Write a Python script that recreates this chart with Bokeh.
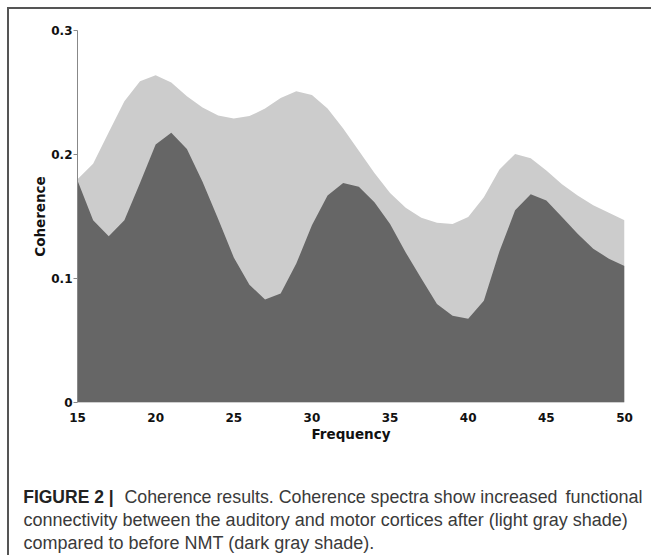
from bokeh.plotting import figure
from bokeh.layouts import column
from bokeh.models import Range1d, FixedTicker, Label
from bokeh.embed import file_html
from bokeh.resources import INLINE

# ---- data ----
freq = list(range(15, 51))
after_nmt = [0.180, 0.1925, 0.218, 0.243, 0.259, 0.264, 0.258, 0.247, 0.238, 0.2315,
             0.229, 0.231, 0.237, 0.2455, 0.251, 0.248, 0.237, 0.221, 0.203, 0.185,
             0.169, 0.157, 0.149, 0.145, 0.144, 0.1495, 0.1655, 0.188, 0.2005, 0.197,
             0.187, 0.176, 0.167, 0.159, 0.153, 0.147]
before_nmt = [0.179, 0.147, 0.134, 0.147, 0.177, 0.208, 0.2175, 0.2045, 0.178, 0.148,
              0.117, 0.095, 0.083, 0.088, 0.112, 0.143, 0.167, 0.177, 0.174, 0.1615,
              0.144, 0.121, 0.100, 0.0795, 0.070, 0.0675, 0.082, 0.122, 0.155, 0.168,
              0.163, 0.1495, 0.136, 0.124, 0.116, 0.110]
x_ticks = [15, 20, 25, 30, 35, 40, 45, 50]
y_ticks = [0, 0.1, 0.2, 0.3]
y_tick_labels = ["0", "0.1", "0.2", "0.3"]
x_label = "Frequency"
y_label = "Coherence"
caption_bold = "FIGURE 2 |"
# caption lines, in chunks (first line is justified in the original)
caption_chunks = [
    [("Coherence results. Coherence spectra show increased", "left", "17.8px"),
     ("functional", "right", "18px")],
    [("connectivity between the auditory and motor cortices after (light gray shade)", "left", "18px")],
    [("compared to before NMT (dark gray shade).", "left", "18px")],
]
chunk_x = [[115, 633], [14], [14]]

W = 642
HC = 448
HK = 98

p = figure(width=W, height=HC, x_range=Range1d(15, 50), y_range=Range1d(0, 0.3),
           output_backend="svg", toolbar_location=None,
           min_border_left=68, min_border_right=W - 615, min_border_top=21,
           min_border_bottom=HC - 393)
p.frame_align = False
p.outline_line_color = None
p.xgrid.visible = False
p.ygrid.visible = False
p.background_fill_color = "white"
p.border_fill_color = "white"

p.varea(x=freq, y1=0, y2=after_nmt, fill_color="#cccccc")
p.varea(x=freq, y1=0, y2=before_nmt, fill_color="#666666")

# y axis
ya = p.yaxis[0]
ya.ticker = FixedTicker(ticks=y_ticks)
ya.major_label_overrides = {t: s for t, s in zip(y_ticks, y_tick_labels)}
ya.axis_line_color = "#888888"
ya.major_tick_line_color = "#888888"
ya.major_tick_out = 4
ya.major_tick_in = 0
ya.minor_tick_line_color = None
ya.major_label_standoff = 1
ya.axis_label = y_label
ya.axis_label_standoff = 0

# x axis
xa = p.xaxis[0]
xa.ticker = FixedTicker(ticks=x_ticks)
xa.axis_line_color = None
xa.major_tick_line_color = None
xa.minor_tick_line_color = None
xa.major_tick_out = 0
xa.major_tick_in = 0
xa.major_label_standoff = 10
xa.axis_label = x_label
xa.axis_label_standoff = 1

for ax in (xa, ya):
    ax.major_label_text_font = "DejaVu Sans"
    ax.major_label_text_font_style = "bold"
    ax.major_label_text_font_size = "12px"
    ax.major_label_text_color = "#111111"
    ax.axis_label_text_font = "DejaVu Sans"
    ax.axis_label_text_font_style = "bold"
    ax.axis_label_text_font_size = "13.5px"
    ax.axis_label_text_color = "#111111"

# caption panel: pixel-like coordinates, y measured from its top
cap = figure(width=W, height=HK, x_range=Range1d(0, W), y_range=Range1d(HK, 0),
             output_backend="svg", toolbar_location=None, min_border=0)
cap.frame_align = False
cap.axis.visible = False
cap.grid.visible = False
cap.outline_line_color = None
cap.background_fill_color = "white"
cap.border_fill_color = "white"

cap_font = "Liberation Sans"
cap.add_layout(Label(x=13.7, y=39.5, text=caption_bold,
                     text_font=cap_font, text_font_size="17.5px", text_font_style="bold",
                     text_color="#222222", text_baseline="alphabetic"))
ys = [39.5, 62.5, 85.5]
for chunks, xs, sy in zip(caption_chunks, chunk_x, ys):
    for (txt, al, fs), sx in zip(chunks, xs):
        cap.add_layout(Label(x=sx, y=sy, text=txt, text_align=al,
                             text_font=cap_font, text_font_size=fs,
                             text_color="#3a3a3a", text_baseline="alphabetic"))

layout = column(p, cap, spacing=0,
                styles={"margin-left": "7px", "margin-top": "7px",
                        "border-top": "2px solid #555555",
                        "border-left": "2px solid #555555"})

open("out.html", "w").write(file_html(layout, INLINE))
